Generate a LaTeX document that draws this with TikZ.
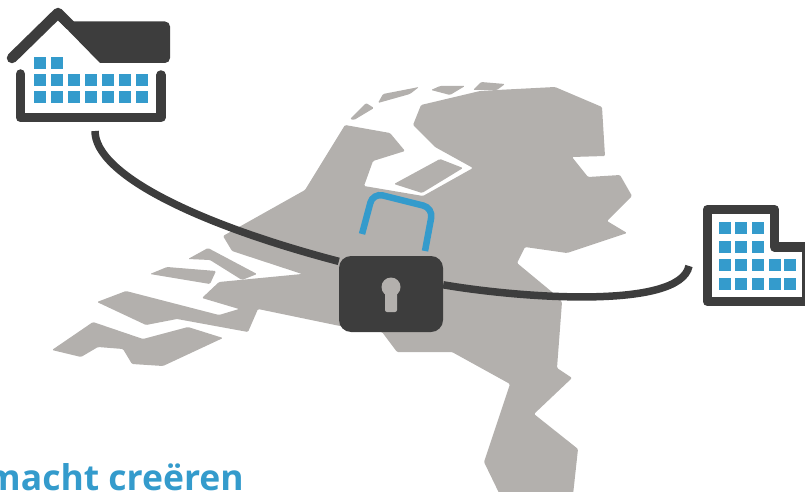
\documentclass[tikz,border=0pt]{standalone}
\usepackage{fontspec}
\setmainfont{Open Sans}
\definecolor{lockdark}{RGB}{61,61,61}
\definecolor{mapgrey}{RGB}{179,176,173}
\definecolor{winblue}{RGB}{52,155,204}

\begin{document}
\begin{tikzpicture}[x=1pt,y=-1pt]
  \tikzstyle{land}=[fill=mapgrey,draw=none,rounded corners=1.2pt]
  \tikzstyle{wall}=[draw=lockdark,line width=9.5pt,line join=round,line cap=round]
  \tikzstyle{link}=[draw=lockdark,line width=7.5pt]
  \tikzstyle{win}=[fill=winblue]
  \tikzstyle{lockbody}=[fill=lockdark,rounded corners=12pt,minimum width=104pt,minimum height=76pt,inner sep=0pt]
  \useasboundingbox (0,0) rectangle (805,492);

  % -- map --
  \fill[land] (345,125) -- (390,133) -- (405,151) -- (373,161) -- (364,186) -- (423,196)
    -- (473,168) -- (435,147) -- (413,125) -- (421,105) -- (480,91) -- (497,90) -- (555,87)
    -- (602,107) -- (605,156) -- (572,157) -- (588,177) -- (620,175) -- (632,196) -- (607,221)
    -- (627,233) -- (567,253) -- (525,247) -- (517,263) -- (552,292) -- (562,302) -- (557,368)
    -- (572,378) -- (534,414) -- (578,449) -- (573,495) -- (500,495) -- (484,462) -- (510,384)
    -- (452,352) -- (397,352) -- (382,332) -- (340,326) -- (258,309) -- (248,332) -- (177,319)
    -- (146,325) -- (97,302) -- (126,291) -- (219,315) -- (239,309) -- (202,298) -- (219,282)
    -- (302,274) -- (232,251) -- (223,236) -- (305,190) -- cycle;
  \fill[land] (394,184) -- (440,159) -- (463,168) -- (422,193) -- cycle;
  % islands
  \fill[land] (188,259) -- (208,248) -- (257,274) -- (242,280) -- (210,260) -- cycle;
  \fill[land] (150,274) -- (167,267) -- (216,271) -- (210,284) -- cycle;
  \fill[land] (52,350) -- (93,322) -- (143,339) -- (188,327) -- (223,338) -- (163,366)
    -- (132,364) -- (123,349) -- (98,347) -- (81,357) -- cycle;
  \fill[land] (350,119) -- (366,103) -- (374,108) -- (354,120) -- cycle;
  \fill[land] (378,103) -- (383,94) -- (419,87) -- (410,94) -- cycle;
  \fill[land] (431,90) -- (440,86) -- (465,86) -- (450,95) -- cycle;
  \fill[land] (473,90) -- (481,82) -- (505,84) -- (497,90) -- cycle;

  % -- house --
  \draw[wall,line width=10.5pt] (12,58) -- (58,13) -- (70,25);
  \fill[lockdark] (58,20) -- (100,63) [rounded corners=5pt] -- (170,63) -- (170,21.5) -- (70,21.5) [sharp corners] -- (58,21) -- cycle;
  \draw[wall] (20.5,74) -- (20.5,117.5) -- (161,117.5) -- (161,75);
  \foreach \x in {34,51} \fill[win] (\x,57) rectangle +(12,12);
  \foreach \y in {74,91}
    \foreach \x in {34,51,68,85,102,119,136} \fill[win] (\x,\y) rectangle +(12,12);
  \coordinate (home) at (95,131);

  % -- office --
  \draw[wall,line cap=butt] (707.5,209.5) -- (774.5,209.5) -- (774.5,247) -- (807,247) -- (807,301.5) -- (707.5,301.5) -- cycle;
  \foreach \y in {222,241}
    \foreach \x in {719,735,752} \fill[win] (\x,\y) rectangle +(12,12);
  \foreach \y in {259,278}
    \foreach \x in {719,735,752,769,784} \fill[win] (\x,\y) rectangle +(12,12);
  \coordinate (office) at (689,266);

  % -- lock --
  \draw[draw=winblue,line width=6.5pt,rounded corners=10pt] (362,234) -- (373,193) -- (433,208) -- (425,251);
  \node[lockbody] (lock) at (391,294) {};
  \fill[mapgrey] (391,287) circle (9.5pt);
  \fill[mapgrey,rounded corners=2pt] (385,290) rectangle (397,312);

  % -- links --
  \draw[link] (home) .. controls (95,175) and (200,225) .. (lock.148);
  \draw[link] (lock.10) .. controls (520,298) and (680,310) .. (office);

  \node[anchor=base east,inner sep=0pt,text=winblue,font=\fontsize{35.5pt}{38pt}\selectfont\bfseries] (title) at (244,490.5) {macht creëren};
\end{tikzpicture}
\end{document}
